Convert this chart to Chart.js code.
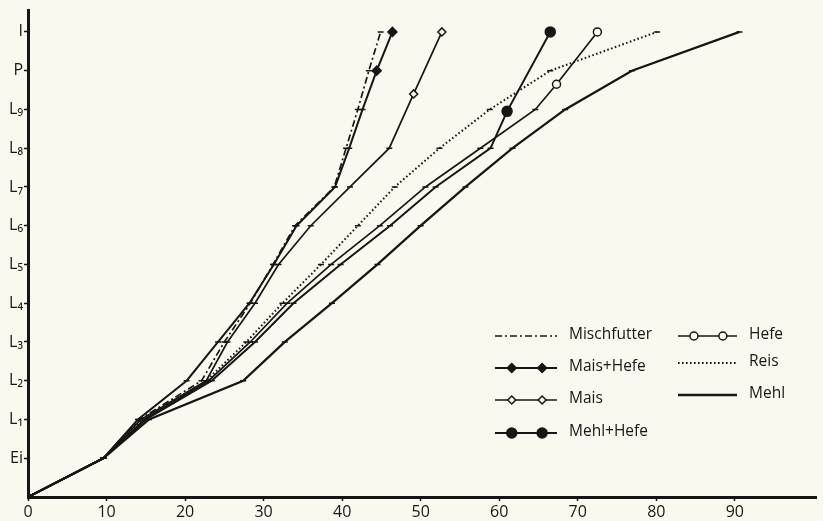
<!DOCTYPE html>
<html>
<head>
<meta charset="utf-8">
<script src="https://cdn.jsdelivr.net/npm/chart.js@4/dist/chart.umd.min.js"></script>
<style>
  html, body { margin: 0; padding: 0; background: #fbf9ef; }
  #wrap { width: 823px; height: 521px; position: relative; }
  canvas { display: block; background: #fbf9ef; }
</style>
</head>
<body>
<div id="wrap"><canvas id="c" width="823" height="521"></canvas></div>
<script>
// ---- Data ----
const stageLabels = ['', 'Ei', 'L\u2081', 'L\u2082', 'L\u2083', 'L\u2084', 'L\u2085', 'L\u2086', 'L\u2087', 'L\u2088', 'L\u2089', 'P', 'I'];
const stageTicks = [1, 2, 3, 4, 5, 6, 7, 8, 9, 10, 11, 12];
const xTickMax = 90;

const mischfutterX = [0, 9.6, 14.2, 22.1, 25.0, 28.3, 31.2, 34.0, 39.0, 40.5, 42.0, 43.4, 44.9];
const mischfutterY = [0, 1, 2, 3, 4, 5, 6, 7, 8, 9, 10, 11, 12];

const maisHefeX = [0, 9.6, 14.0, 20.2, 24.2, 28.2, 31.3, 34.2, 39.1, 40.9, 42.6, 44.4, 46.4];
const maisHefeY = [0, 1, 2, 3, 4, 5, 6, 7, 8, 9, 10, 11, 12];

const maisX = [0, 9.6, 14.4, 22.7, 25.4, 28.9, 31.9, 36.0, 41.0, 46.0, 49.1, 52.7];
const maisY = [0, 1, 2, 3, 4, 5, 6, 7, 8, 9, 10.4, 12];

const mehlHefeX = [0, 9.6, 15.0, 23.4, 28.9, 33.8, 39.8, 46.1, 51.9, 58.9, 61.0, 66.5];
const mehlHefeY = [0, 1, 2, 3, 4, 5, 6, 7, 8, 9, 9.95, 12];

const hefeX = [0, 9.6, 14.8, 23.0, 28.3, 33.0, 38.6, 44.8, 50.6, 57.6, 64.6, 67.3, 72.5];
const hefeY = [0, 1, 2, 3, 4, 5, 6, 7, 8, 9, 10, 10.65, 12];

const reisX = [0, 9.6, 14.6, 22.7, 27.8, 32.4, 37.3, 42.0, 46.7, 52.4, 58.8, 66.5, 80.1];
const reisY = [0, 1, 2, 3, 4, 5, 6, 7, 8, 9, 10, 11, 12];

const mehlX = [0, 9.6, 15.4, 27.4, 32.7, 38.7, 44.5, 50.0, 55.7, 61.7, 68.4, 76.9, 90.6];
const mehlY = [0, 1, 2, 3, 4, 5, 6, 7, 8, 9, 10, 11, 12];

// ---- Styling ----
const INK = '#161616';
const PAPER = '#fbf9ef';
const FONT = '"Open Sans", "DejaVu Sans", sans-serif';

const series = [
  { label: 'Mischfutter', xs: mischfutterX, ys: mischfutterY, dash: [7, 3, 2, 3], width: 1.7, marker: null, special: 0 },
  { label: 'Mais+Hefe', xs: maisHefeX, ys: maisHefeY, dash: [], width: 2, marker: { style: 'rectRot', r: 4.5, fill: INK }, special: 2 },
  { label: 'Mais', xs: maisX, ys: maisY, dash: [], width: 1.7, marker: { style: 'rectRot', r: 4, fill: PAPER }, special: 2 },
  { label: 'Mehl+Hefe', xs: mehlHefeX, ys: mehlHefeY, dash: [], width: 2, marker: { style: 'circle', r: 5, fill: INK }, special: 2 },
  { label: 'Hefe', xs: hefeX, ys: hefeY, dash: [], width: 1.7, marker: { style: 'circle', r: 4, fill: PAPER }, special: 2 },
  { label: 'Reis', xs: reisX, ys: reisY, dash: [1.6, 2.4], width: 2, marker: null, special: 0 },
  { label: 'Mehl', xs: mehlX, ys: mehlY, dash: [], width: 2.3, marker: null, special: 0 }
];

const datasets = series.map(s => {
  const n = s.xs.length;
  const styles = [], radii = [], fills = [];
  for (let i = 0; i < n; i++) {
    const isSpecial = s.marker && i >= n - s.special;
    if (i === 0) { styles.push('line'); radii.push(0); fills.push(INK); }
    else if (isSpecial) { styles.push(s.marker.style); radii.push(s.marker.r); fills.push(s.marker.fill); }
    else { styles.push('line'); radii.push(3); fills.push(INK); }
  }
  return {
    label: s.label,
    data: s.xs.map((x, i) => ({ x: x, y: s.ys[i] })),
    borderColor: INK,
    borderWidth: s.width,
    borderDash: s.dash,
    tension: 0,
    fill: false,
    pointStyle: styles,
    pointRadius: radii,
    pointBackgroundColor: fills,
    pointBorderColor: INK,
    pointBorderWidth: 1.5,
    pointHoverRadius: radii
  };
});

// ---- Custom legend drawn inside the plot ----
const legendLayout = [
  { col: 0, y: 336 }, { col: 0, y: 368 }, { col: 0, y: 400 }, { col: 0, y: 433 },
  { col: 1, y: 336 }, { col: 1, y: 363 }, { col: 1, y: 395 }
];
const legendCols = [{ x1: 495, x2: 557, tx: 569 }, { x1: 678, x2: 737, tx: 749 }];

const legendPlugin = {
  id: 'innerLegend',
  afterDatasetsDraw(chart) {
    const ctx = chart.ctx;
    ctx.save();
    series.forEach((s, i) => {
      const L = legendLayout[i];
      const c = legendCols[L.col];
      ctx.strokeStyle = INK;
      ctx.lineWidth = s.width;
      ctx.setLineDash(s.dash);
      ctx.beginPath();
      ctx.moveTo(c.x1, L.y);
      ctx.lineTo(c.x2, L.y);
      ctx.stroke();
      ctx.setLineDash([]);
      if (s.marker) {
        const w = c.x2 - c.x1;
        [c.x1 + w * 0.27, c.x1 + w * 0.76].forEach(px => {
          ctx.fillStyle = s.marker.fill;
          ctx.strokeStyle = INK;
          ctx.lineWidth = 1.5;
          Chart.helpers.drawPoint(ctx, { pointStyle: s.marker.style, radius: s.marker.r, rotation: 0, borderWidth: 1.5 }, px, L.y);
        });
      }
      ctx.fillStyle = INK;
      ctx.font = '15.5px ' + FONT;
      ctx.textBaseline = 'middle';
      ctx.textAlign = 'left';
      ctx.fillText(s.label, c.tx, L.y - 1);
    });
    ctx.restore();
  }
};

new Chart(document.getElementById('c'), {
  type: 'line',
  data: { datasets: datasets },
  plugins: [legendPlugin],
  options: {
    responsive: false,
    animation: false,
    events: [],
    layout: { padding: { top: 10, right: 3, left: 0, bottom: 0 } },
    plugins: { legend: { display: false }, tooltip: { enabled: false } },
    scales: {
      x: {
        type: 'linear',
        min: 0,
        max: 100.4,
        afterFit: (axis) => { axis.height = 24; },
        afterBuildTicks: (axis) => { axis.ticks = axis.ticks.filter(t => t.value <= xTickMax); },
        ticks: { stepSize: 10, color: INK, font: { family: FONT, size: 16 }, padding: 2, maxRotation: 0 },
        grid: { drawOnChartArea: false, drawTicks: true, tickLength: 4, tickWidth: 1.5, tickColor: INK },
        border: { display: true, color: INK, width: 3 }
      },
      y: {
        type: 'linear',
        min: 0,
        max: 12.55,
        afterFit: (axis) => { axis.width = 28; },
        afterBuildTicks: (axis) => { axis.ticks = stageTicks.map(v => ({ value: v })); },
        ticks: { autoSkip: false, color: INK, font: { family: FONT, size: 16 }, padding: 1,
                 callback: (v) => stageLabels[v] },
        grid: { drawOnChartArea: false, drawTicks: true, tickLength: 4, tickWidth: 1.5, tickColor: INK },
        border: { display: true, color: INK, width: 3 }
      }
    }
  }
});
</script>
</body>
</html>
